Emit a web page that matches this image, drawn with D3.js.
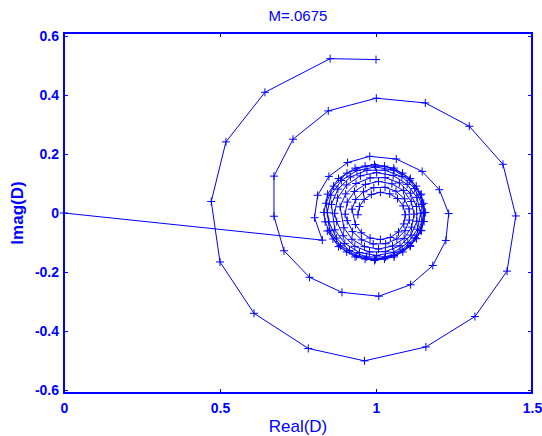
<!DOCTYPE html>
<html>
<head>
<meta charset="utf-8">
<script src="https://cdn.jsdelivr.net/npm/d3@7"></script>
<style>
  html, body { margin: 0; padding: 0; background: #fff; }
  svg { display: block; }
</style>
</head>
<body>
<svg id="chart" width="542" height="436"></svg>
<script>
// Trajectory leaving the origin and spiralling outward (clockwise)
const outerRe = [0, 0.828, 0.803, 0.813, 0.849, 0.909, 0.980, 1.065, 1.148, 1.203, 1.233,
  1.224, 1.182, 1.111, 1.009, 0.891, 0.787, 0.705, 0.673, 0.673, 0.734, 0.847, 1.001,
  1.158, 1.299, 1.407, 1.448, 1.420, 1.317, 1.160, 0.963, 0.783, 0.609, 0.500, 0.472,
  0.519, 0.644, 0.853, 1.000];
const outerIm = [0, -0.092, -0.016, 0.060, 0.124, 0.171, 0.192, 0.183, 0.141, 0.079, -0.002,
  -0.093, -0.178, -0.243, -0.282, -0.269, -0.218, -0.128, -0.011, 0.125, 0.250, 0.346, 0.389,
  0.373, 0.294, 0.165, -0.010, -0.197, -0.351, -0.454, -0.501, -0.459, -0.340, -0.166, 0.039,
  0.241, 0.409, 0.523, 0.520];

// Inner spiral growing slowly and settling onto a ring around 1+0j
const clusterRe = [
  0.942, 0.947, 0.962, 0.985, 1.014, 1.044, 1.069, 1.087, 1.094, 1.089, 1.072, 1.046, 1.014, 0.981, 0.953, 0.934,
  0.923, 0.935, 0.960, 0.993, 1.029, 1.064, 1.091, 1.106, 1.107, 1.093, 1.067, 1.031, 0.991, 0.954, 0.925, 0.908,
  0.901, 0.908, 0.931, 0.966, 1.008, 1.051, 1.088, 1.113, 1.122, 1.114, 1.090, 1.053, 1.008, 0.963, 0.923, 0.897,
  0.885, 0.903, 0.936, 0.981, 1.029, 1.075, 1.110, 1.130, 1.131, 1.112, 1.077, 1.030, 0.979, 0.932, 0.895, 0.874,
  0.867, 0.877, 0.906, 0.950, 1.002, 1.055, 1.100, 1.131, 1.143, 1.133, 1.102, 1.057, 1.002, 0.947, 0.900, 0.868,
  0.857, 0.878, 0.918, 0.971, 1.029, 1.083, 1.124, 1.147, 1.147, 1.125, 1.084, 1.030, 0.970, 0.915, 0.873, 0.849,
  0.844, 0.855, 0.889, 0.939, 0.998, 1.058, 1.108, 1.142, 1.154, 1.143, 1.109, 1.058, 0.998, 0.938, 0.886, 0.852,
  0.840, 0.864, 0.907, 0.965, 1.027, 1.085, 1.129, 1.153, 1.154, 1.130, 1.086, 1.027, 0.965, 0.906, 0.862, 0.837,
  0.833, 0.845, 0.880, 0.933, 0.995, 1.057, 1.110, 1.145, 1.158, 1.146, 1.110, 1.058, 0.995, 0.933, 0.880, 0.844];
const clusterIm = [
  -0.006, 0.022, 0.046, 0.063, 0.070, 0.065, 0.049, 0.024, -0.006, -0.037, -0.064, -0.083, -0.090, -0.085, -0.067, -0.039,
  0.013, 0.046, 0.072, 0.086, 0.087, 0.074, 0.048, 0.014, -0.024, -0.060, -0.088, -0.104, -0.105, -0.091, -0.063, -0.026,
  -0.004, 0.037, 0.073, 0.097, 0.107, 0.099, 0.076, 0.039, -0.004, -0.048, -0.086, -0.112, -0.122, -0.114, -0.089, -0.050,
  0.021, 0.065, 0.100, 0.119, 0.120, 0.102, 0.067, 0.022, -0.028, -0.075, -0.111, -0.131, -0.132, -0.113, -0.077, -0.029,
  -0.001, 0.051, 0.095, 0.126, 0.137, 0.127, 0.097, 0.053, -0.001, -0.055, -0.101, -0.133, -0.144, -0.134, -0.103, -0.057,
  0.029, 0.081, 0.122, 0.145, 0.145, 0.123, 0.083, 0.029, -0.029, -0.084, -0.125, -0.149, -0.149, -0.127, -0.085, -0.030,
  0.001, 0.060, 0.110, 0.144, 0.156, 0.145, 0.111, 0.061, 0.001, -0.059, -0.110, -0.144, -0.157, -0.145, -0.111, -0.060,
  0.033, 0.091, 0.135, 0.159, 0.159, 0.135, 0.091, 0.033, -0.029, -0.087, -0.132, -0.156, -0.156, -0.132, -0.088, -0.030,
  0.002, 0.064, 0.117, 0.152, 0.164, 0.152, 0.117, 0.064, 0.002, -0.060, -0.113, -0.149, -0.161, -0.149, -0.114, -0.061];

const xTicks = [0, 0.5, 1, 1.5];
const xTickLabels = ["0", "0.5", "1", "1.5"];
const yTicks = [-0.6, -0.4, -0.2, 0, 0.2, 0.4, 0.6];
const yTickLabels = ["-0.6", "-0.4", "-0.2", "0", "0.2", "0.4", "0.6"];

const titleText = "M=.0675";
const xLabel = "Real(D)";
const yLabel = "Imag(D)";

const blue = "#0000ff";
const font = "'Liberation Sans', Arial, sans-serif";

const box = { left: 64, right: 532, top: 33, bottom: 393 };

const x = d3.scaleLinear().domain([0, 1.5]).range([box.left, box.right]);
const y = d3.scaleLinear().domain([-0.61, 0.61]).range([box.bottom, box.top]);

const svg = d3.select("#chart");

// Frame
svg.append("rect")
  .attr("x", box.left).attr("y", box.top)
  .attr("width", box.right - box.left).attr("height", box.bottom - box.top)
  .attr("fill", "none").attr("stroke", blue).attr("stroke-width", 2);

function styleAxis(g, showLabels) {
  g.select(".domain").remove();
  g.selectAll(".tick line").attr("stroke", blue).attr("stroke-width", 1);
  g.selectAll(".tick text")
    .attr("fill", blue)
    .style("font-family", font)
    .style("font-size", "14px")
    .style("font-weight", "bold")
    .style("display", showLabels ? null : "none");
}

const xi = v => xTickLabels[xTicks.indexOf(v)];
const yi = v => yTickLabels[yTicks.indexOf(v)];

svg.append("g").attr("transform", `translate(0,${box.bottom})`)
  .call(d3.axisBottom(x).tickValues(xTicks).tickFormat(xi).tickSizeInner(-4).tickSizeOuter(0).tickPadding(10))
  .call(g => styleAxis(g, true));
svg.append("g").attr("transform", `translate(0,${box.top})`)
  .call(d3.axisTop(x).tickValues(xTicks).tickFormat(xi).tickSizeInner(-4).tickSizeOuter(0))
  .call(g => styleAxis(g, false));
svg.append("g").attr("transform", `translate(${box.left},0)`)
  .call(d3.axisLeft(y).tickValues(yTicks).tickFormat(yi).tickSizeInner(-4).tickSizeOuter(0).tickPadding(5))
  .call(g => styleAxis(g, true));
svg.append("g").attr("transform", `translate(${box.right},0)`)
  .call(d3.axisRight(y).tickValues(yTicks).tickFormat(yi).tickSizeInner(-4).tickSizeOuter(0))
  .call(g => styleAxis(g, false));

// Series: polyline plus "+" markers at every sample
const line = d3.line().x(d => x(d[0])).y(d => y(d[1]));
const series = [
  d3.zip(clusterRe, clusterIm),
  d3.zip(outerRe, outerIm)
];

const plot = svg.append("g");
series.forEach(pts => {
  plot.append("path")
    .datum(pts)
    .attr("d", line)
    .attr("fill", "none")
    .attr("stroke", blue)
    .attr("stroke-width", 1)
    .attr("stroke-linejoin", "round");
  plot.append("g").selectAll("path")
    .data(pts)
    .join("path")
    .attr("transform", d => `translate(${x(d[0])},${y(d[1])})`)
    .attr("d", "M-4,0H4M0,-4V4")
    .attr("stroke", blue)
    .attr("stroke-width", 1)
    .attr("fill", "none");
});

// Title and axis labels
svg.append("text")
  .attr("x", (box.left + box.right) / 2).attr("y", 21)
  .attr("text-anchor", "middle")
  .attr("fill", blue)
  .style("font-family", font).style("font-size", "15px")
  .text(titleText);

svg.append("text")
  .attr("x", (box.left + box.right) / 2).attr("y", 432)
  .attr("text-anchor", "middle")
  .attr("fill", blue)
  .style("font-family", font).style("font-size", "17px")
  .text(xLabel);

svg.append("text")
  .attr("transform", `translate(23,${(box.top + box.bottom) / 2}) rotate(-90)`)
  .attr("text-anchor", "middle")
  .attr("fill", blue)
  .style("font-family", font).style("font-size", "17px").style("font-weight", "bold")
  .text(yLabel);
</script>
</body>
</html>
